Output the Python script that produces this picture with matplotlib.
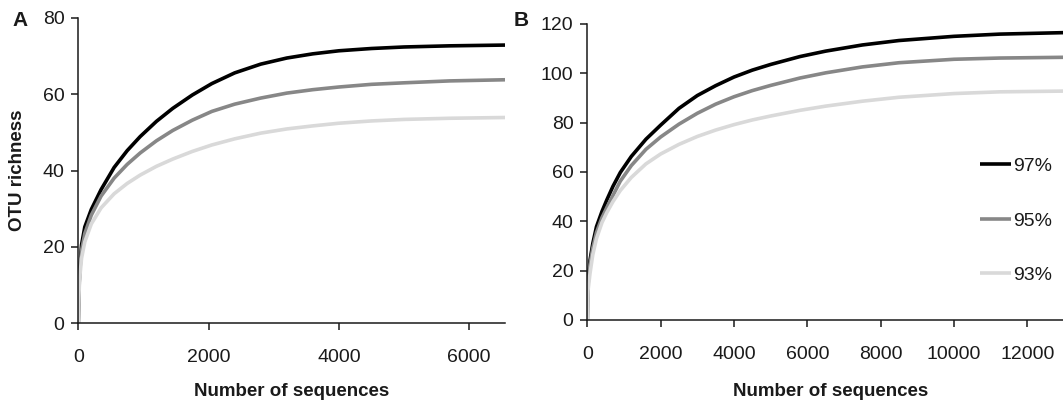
import matplotlib
matplotlib.use("Agg")
import matplotlib.pyplot as plt

plt.rcParams['font.family'] = ['Liberation Sans', 'DejaVu Sans']

# ---- data ----
labels = ["97%", "95%", "93%"]
colors = ["#000000", "#878787", "#d9d9d9"]

seqs_a = [0, 5, 20, 50, 100, 200, 350, 550, 750, 950, 1200, 1450, 1750, 2050,
          2400, 2800, 3200, 3600, 4000, 4500, 5000, 5700, 6550]
a_97 = [0, 6, 14, 20.5, 25.2, 29.8, 35, 40.8, 45.2, 48.9, 52.9, 56.3, 59.8, 62.8,
        65.6, 67.9, 69.5, 70.6, 71.4, 72.0, 72.4, 72.7, 72.9]
a_95 = [0, 5.5, 13, 19, 23.5, 28.3, 33.3, 38.0, 41.6, 44.6, 47.8, 50.5, 53.2, 55.5,
        57.4, 59.0, 60.3, 61.2, 61.9, 62.6, 63.0, 63.5, 63.8]
a_93 = [0, 5, 11.5, 17, 21.3, 26, 30.2, 33.9, 36.6, 38.8, 41.1, 43.0, 45.0, 46.7,
        48.3, 49.8, 50.9, 51.7, 52.4, 53.0, 53.4, 53.7, 53.9]

seqs_b = [0, 5, 20, 75, 150, 250, 400, 530, 700, 900, 1200, 1600, 2000, 2500,
          3000, 3500, 4000, 4500, 5000, 5800, 6500, 7500, 8500, 10000, 11250, 13000]
b_97 = [0, 7, 16, 24.3, 31, 37.8, 44, 48.6, 54.2, 59.8, 66.3, 73.3, 79.0, 85.8,
        91.0, 95.0, 98.5, 101.3, 103.6, 106.8, 109.0, 111.5, 113.3, 115.0, 115.9, 116.5]
b_95 = [0, 6.5, 14.5, 22.5, 29.2, 35.5, 41.5, 45.5, 50.5, 56.3, 62.6, 69.2, 74.2, 79.4,
        83.8, 87.5, 90.5, 93.0, 95.1, 98.1, 100.2, 102.6, 104.3, 105.7, 106.2, 106.5]
b_93 = [0, 5.5, 12, 19, 26.5, 33, 39.5, 43.5, 48.0, 52.5, 57.8, 63.3, 67.3, 71.2,
        74.4, 77.0, 79.2, 81.1, 82.7, 85.0, 86.7, 88.7, 90.3, 91.8, 92.5, 92.8]

W, H = 1063, 404
fig = plt.figure(figsize=(W / 100, H / 100), dpi=100)

def px_axes(x0, x1, ytop, ybot):
	return fig.add_axes([x0 / W, 1 - ybot / H, (x1 - x0) / W, (ybot - ytop) / H])

ax1 = px_axes(78.3, 505, 18, 323)
ax2 = px_axes(587.3, 1063, 24, 320)

for ax, x, ys in [(ax1, seqs_a, [a_97, a_95, a_93]), (ax2, seqs_b, [b_97, b_95, b_93])]:
	for y, c, lab in zip(ys, colors, labels):
		ax.plot(x, y, color=c, lw=2.6, label=lab, solid_capstyle='butt')
	ax.spines['top'].set_visible(False)
	ax.spines['right'].set_visible(False)
	for s in ['left', 'bottom']:
		ax.spines[s].set_linewidth(1.1)
		ax.spines[s].set_color('#1a1a1a')
	ax.tick_params(direction='out', length=5, width=1.1, color='#1a1a1a',
	               labelsize=14, labelcolor='#1a1a1a')
	ax.tick_params(axis='x', pad=14)
	ax.tick_params(axis='y', pad=5)
	ax.set_xlabel('Number of sequences', fontsize=13.5, fontweight='bold',
	              color='#1a1a1a', va='center')

ax1.set_xlim(0, 6550)
ax1.set_ylim(0, 80)
ax1.set_xticks([0, 2000, 4000, 6000])
ax1.set_yticks([0, 20, 40, 60, 80])
ax1.xaxis.set_label_coords(0.5, -(392 - 323) / 305)

ax2.set_xlim(0, 12973)
ax2.set_ylim(0, 120)
ax2.set_xticks([0, 2000, 4000, 6000, 8000, 10000, 12000])
ax2.set_yticks([0, 20, 40, 60, 80, 100, 120])
ax2.xaxis.set_label_coords((830.5 - 587.3) / 475.7, -(392 - 320) / 296)

fig.text(18 / W, 1 - 170 / H, 'OTU richness', rotation=90, ha='center', va='center',
         fontsize=13.5, fontweight='bold', color='#1a1a1a')
fig.text(20 / W, 1 - 21 / H, 'A', ha='center', va='center', fontsize=15,
         fontweight='bold', color='#1a1a1a')
fig.text(521 / W, 1 - 21 / H, 'B', ha='center', va='center', fontsize=15,
         fontweight='bold', color='#1a1a1a')

ax2.legend(loc='center left', bbox_to_anchor=(980 / W, 1 - 220.7 / H),
           bbox_transform=fig.transFigure, frameon=False, fontsize=14,
           handlelength=1.6, handletextpad=0.08, labelspacing=1.9,
           borderpad=0, borderaxespad=0, labelcolor='#1a1a1a')

fig.savefig('out.png', dpi=100)
